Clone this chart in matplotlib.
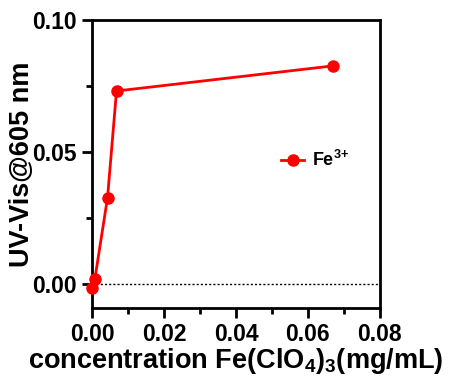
import matplotlib.pyplot as plt
from matplotlib.ticker import MultipleLocator

plt.rcParams['font.family'] = ['Liberation Sans', 'DejaVu Sans']
plt.rcParams['font.weight'] = 'bold'
plt.rcParams['mathtext.fontset'] = 'custom'
plt.rcParams['mathtext.rm'] = 'Liberation Sans:bold'
plt.rcParams['mathtext.default'] = 'rm'

conc = [0.0, 0.0008, 0.0043, 0.0068, 0.0669]
absorb = [-0.0013, 0.0021, 0.0327, 0.0731, 0.0826]

fig = plt.figure(figsize=(4.49, 3.76), dpi=100)
ax = fig.add_axes([0.205, 0.181, 0.641, 0.766])

ax.axhline(0, color='black', linestyle=(0, (1.5, 1.5)), linewidth=1, zorder=1)
ax.plot(conc, absorb, color='#ff0000', marker='o', markersize=8, linewidth=2,
        label='Fe$^{3{+}}$', clip_on=False, zorder=3)

ax.set_xlim(0, 0.08)
ax.set_ylim(-0.009, 0.10)
ax.xaxis.set_major_locator(MultipleLocator(0.02))
ax.xaxis.set_minor_locator(MultipleLocator(0.01))
ax.yaxis.set_major_locator(MultipleLocator(0.05))
ax.yaxis.set_minor_locator(MultipleLocator(0.025))
ax.set_xticks([0, 0.02, 0.04, 0.06, 0.08])
ax.set_xticklabels(['0.00', '0.02', '0.04', '0.06', '0.08'])
ax.set_yticks([0, 0.05, 0.10])
ax.set_yticklabels(['0.00', '0.05', '0.10'])

for s in ax.spines.values():
    s.set_linewidth(2)
ax.tick_params(which='major', direction='out', length=7, width=2, labelsize=16.5, pad=4)
ax.tick_params(which='minor', direction='out', length=4, width=2)

ax.set_xlabel('concentration Fe(ClO$_4$)$_3$(mg/mL)', fontsize=19.5, fontweight='bold', labelpad=0)
ax.set_ylabel('UV-Vis@605 nm', fontsize=19.5, fontweight='bold', labelpad=-2)

ax.legend(loc='center left', bbox_to_anchor=(0.6, 0.514), frameon=False,
          fontsize=13, handlelength=1.3, handletextpad=0.4)

fig.savefig('out.png', dpi=100)
